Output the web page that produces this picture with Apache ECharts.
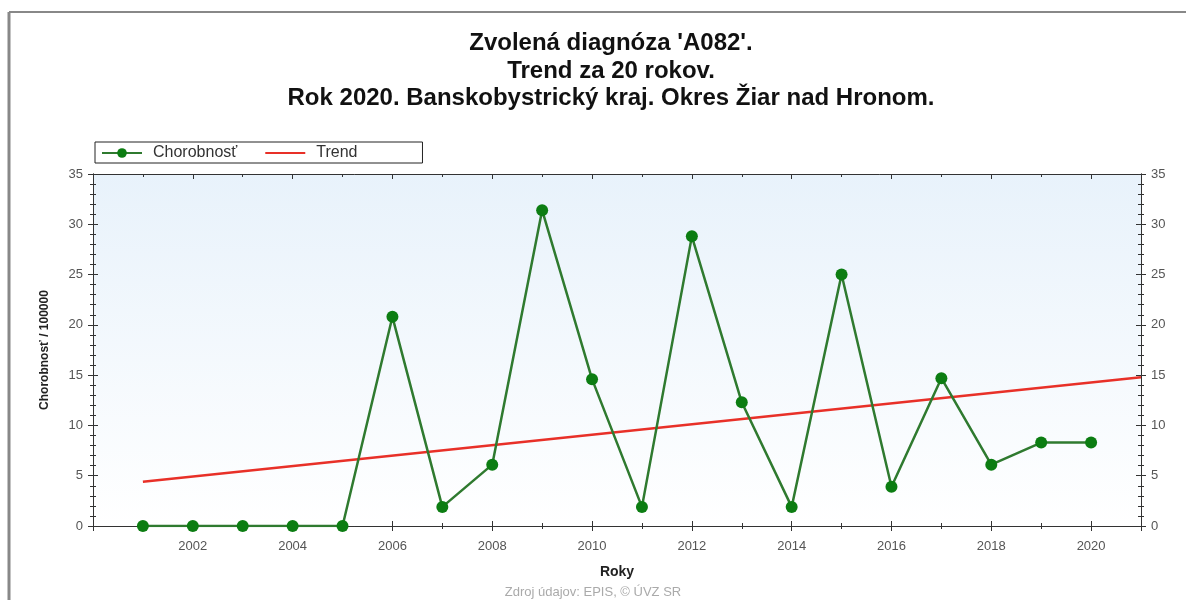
<!DOCTYPE html>
<html>
<head>
<meta charset="utf-8">
<script src="https://cdn.jsdelivr.net/npm/echarts@6/dist/echarts.min.js"></script>
<style>
html, body { margin: 0; padding: 0; background: #fff; }
#chart { width: 1186px; height: 600px; }
</style>
</head>
<body>
<div id="chart"></div>
<script>
// roky a hodnoty chorobnosti / 100000
var years = [2001, 2002, 2003, 2004, 2005, 2006, 2007, 2008, 2009, 2010,
    2011, 2012, 2013, 2014, 2015, 2016, 2017, 2018, 2019, 2020];
var chorobnost = [0, 0, 0, 0, 0, 20.8, 1.9, 6.1, 31.4, 14.6,
    1.9, 28.8, 12.3, 1.9, 25.0, 3.9, 14.7, 6.1, 8.3, 8.3];
// trend - koncove body
var trendYears = [2001, 2021];
var trendValues = [4.4, 14.8];

var font_ = 'Liberation Sans, Arial, sans-serif';

var chart = echarts.init(document.getElementById('chart'));

var pts = years.map(function (y, i) { return [y, chorobnost[i]]; });
var trendPts = trendYears.map(function (y, i) { return [y, trendValues[i]]; });

function yAx(pos, inside, showLabel) {
    return {
        type: 'value', position: pos, min: 0, max: 35, interval: 5,
        axisLine: { show: true, lineStyle: { color: '#333', width: 1 } },
        axisTick: { show: true, inside: inside, length: 5, lineStyle: { color: '#333' } },
        minorTick: { show: true, splitNumber: 5, length: 3, lineStyle: { color: '#333' } },
        splitLine: { show: false },
        axisLabel: { show: showLabel, color: '#555', fontSize: 13, fontFamily: font_, margin: 10 }
    };
}
function xAx(pos, inside, showLabel) {
    return {
        type: 'value', position: pos, min: 2000, max: 2021, interval: 2,
        axisLine: { show: true, onZero: false, lineStyle: { color: '#333', width: 1 } },
        axisTick: { show: true, inside: inside, length: 5, lineStyle: { color: '#333' } },
        minorTick: { show: true, splitNumber: 2, length: 3, lineStyle: { color: '#333' } },
        splitLine: { show: false },
        axisLabel: {
            show: showLabel, color: '#555', fontSize: 13, fontFamily: font_, margin: 14,
            showMinLabel: false, showMaxLabel: false,
            formatter: function (v) { return String(v); }
        }
    };
}

var xl = xAx('bottom', false, true);
xl.name = 'Roky';
xl.nameLocation = 'middle';
xl.nameGap = 39;
xl.nameTextStyle = { fontWeight: 'bold', fontSize: 14, color: '#222', fontFamily: font_ };

var yl = yAx('left', false, true);
yl.name = 'Chorobnosť / 100000';
yl.nameLocation = 'middle';
yl.nameGap = 42;
yl.nameTextStyle = { fontWeight: 'bold', fontSize: 12, color: '#222', fontFamily: font_ };

chart.setOption({
    animation: false,
    backgroundColor: '#fff',
    title: {
        text: "Zvolená diagnóza 'A082'.\nTrend za 20 rokov.\nRok 2020. Banskobystrický kraj. Okres Žiar nad Hronom.",
        left: 606, top: 25, textAlign: 'center',
        textStyle: { fontSize: 24, fontWeight: 'bold', color: '#111', lineHeight: 27.5, fontFamily: font_ }
    },
    legend: {
        left: 95, top: 142,
        padding: [3, 65, 2, 6],
        itemGap: 27, itemWidth: 40, itemHeight: 12,
        borderColor: '#222', borderWidth: 1, borderRadius: 0,
        backgroundColor: '#fff',
        textStyle: { fontSize: 16, color: '#333', fontFamily: font_, padding: [0, 0, 0, 6] },
        data: ['Chorobnosť', { name: 'Trend', itemStyle: { opacity: 0 } }]
    },
    grid: {
        left: 93, right: 45, top: 174, bottom: 74,
        show: true, borderWidth: 0,
        backgroundColor: {
            type: 'linear', x: 0, y: 0, x2: 0, y2: 1,
            colorStops: [{ offset: 0, color: '#e8f2fb' }, { offset: 1, color: '#ffffff' }]
        }
    },
    xAxis: [xl, xAx('top', true, false), xAx('bottom', true, false)],
    yAxis: [yl, yAx('right', false, true), yAx('left', true, false), yAx('right', true, false)],
    graphic: [
        { type: 'line', shape: { x1: 9, y1: 12, x2: 1186, y2: 12 }, style: { stroke: '#888', lineWidth: 2 } },
        { type: 'line', shape: { x1: 9, y1: 12, x2: 9, y2: 600 }, style: { stroke: '#888', lineWidth: 3 } },
        {
            type: 'text', left: 'center', top: 586,
            style: { text: 'Zdroj údajov: EPIS, © ÚVZ SR', fill: '#aaa', fontSize: 13, fontFamily: font_ }
        }
    ],
    series: [
        {
            name: 'Trend', type: 'line', data: trendPts, symbol: 'none',
            lineStyle: { color: '#e83028', width: 2.5 }, itemStyle: { color: '#e83028' }, z: 2
        },
        {
            name: 'Chorobnosť', type: 'line', data: pts,
            symbol: 'circle', symbolSize: 12,
            lineStyle: { color: '#2f7a2f', width: 2.5 },
            itemStyle: { color: '#0c7d12' }, z: 3
        }
    ]
});
</script>
</body>
</html>
